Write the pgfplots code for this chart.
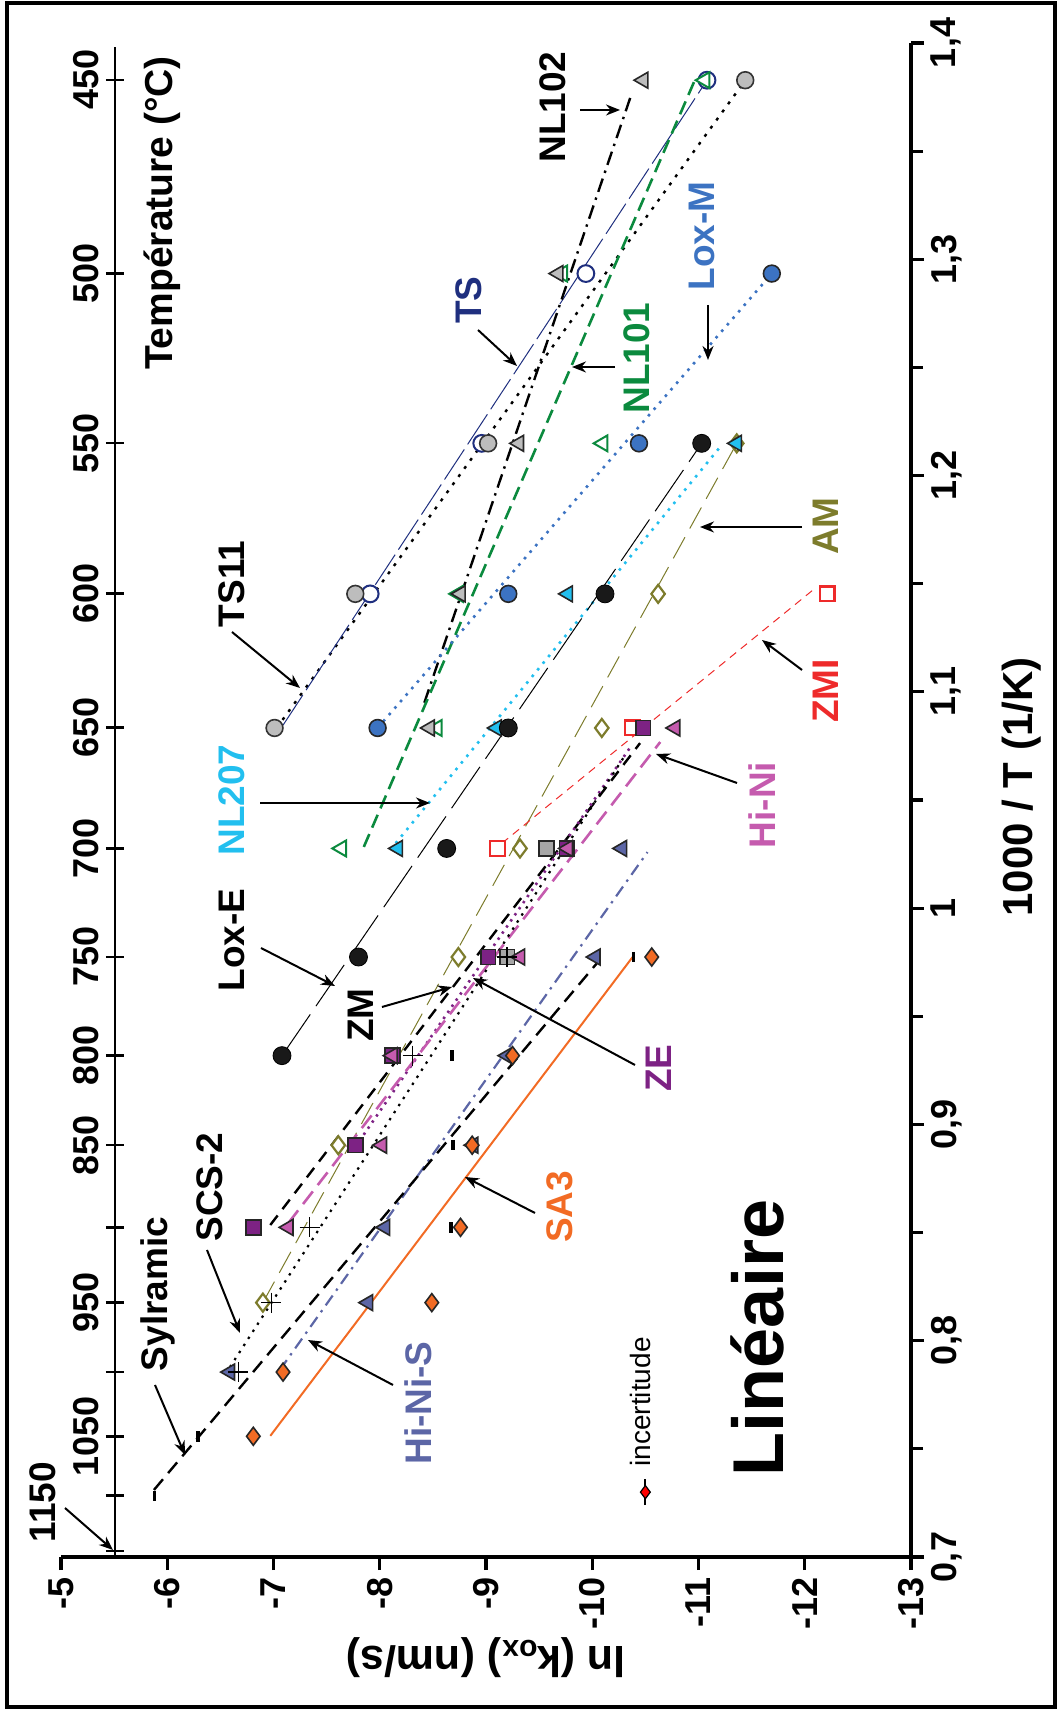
\documentclass[border=0pt]{standalone}
\usepackage{pgfplots}
\pgfplotsset{compat=1.18}
\usepackage{fontspec}
\setmainfont{Liberation Sans}
\usetikzlibrary{arrows.meta}
\definecolor{cnavy}{HTML}{1F2F7F}
\definecolor{cgreen}{HTML}{0B8A3E}
\definecolor{cblue}{HTML}{3C73C2}
\definecolor{ccyan}{HTML}{22BFEF}
\definecolor{colive}{HTML}{7D7C2C}
\definecolor{cred}{HTML}{EE2A2A}
\definecolor{cpink}{HTML}{C55BAE}
\definecolor{cpurple}{HTML}{7D2284}
\definecolor{cslate}{HTML}{5C66A6}
\definecolor{corange}{HTML}{F26B24}
\definecolor{cgray}{HTML}{BDBDBD}
\definecolor{cgraysq}{HTML}{A6A6A6}
\newcommand{\tickfont}{\bfseries\fontsize{18}{18}\selectfont}
\begin{document}
\begin{tikzpicture}
\path[use as bounding box] (-30.5pt,-78pt) rectangle (500pt,778.5pt);
% temperature axis
\begin{axis}[
  at={(27pt,0pt)}, anchor=south west,
  scale only axis, width=60pt, height=755pt,
  xmin=0, xmax=1, ymin=0.7, ymax=1.398,
  axis y line*=left, hide x axis,
  axis line style={line width=1.3pt},
  tick align=center, major tick length=9pt,
  tick style={line width=1.3pt, black},
  ytick={1.3828,1.2934,1.2149,1.1453,1.0833,1.0276,0.9774,0.9318,0.8904,0.8524,0.8176,0.7855,0.7558,0.7283,0.7027},
  yticklabels={450,500,550,600,650,700,750,800,850,{},950,{},1050,{},{}},
  yticklabel style={rotate=90, anchor=south, font=\tickfont},
]
\addplot[draw=none] coordinates {(0.5,1)};
\end{axis}
% main axis
\begin{axis}[
  at={(0pt,0pt)}, anchor=south west,
  scale only axis, width=425pt, height=757pt,
  xmin=-13, xmax=-5, x dir=reverse,
  ymin=0.7, ymax=1.4,
  axis x line*=bottom, axis y line*=right,
  axis line style={line width=1.6pt},
  tick align=outside,
  major tick length=6.5pt, minor tick length=6pt,
  tick style={line width=1.6pt, black},
  xtick={-13,-12,-11,-10,-9,-8,-7,-6,-5},
  xticklabels={-13,-12,-11,-10,-9,-8,-7,-6,-5},
  ytick={0.7,0.8,0.9,1.0,1.1,1.2,1.3,1.4},
  yticklabels={{0,7},{0,8},{0,9},{1},{1,1},{1,2},{1,3},{1,4}},
  minor ytick={0.75,0.85,0.95,1.05,1.15,1.25,1.35},
  clip=false,
  xticklabel style={rotate=90, anchor=east, font=\tickfont},
  yticklabel style={rotate=90, anchor=north, font=\tickfont},
]
% ---- lines ----
\addplot[no marks, black, line width=1.2pt, dash pattern=on 1.5pt off 3.5pt] coordinates {(-7.03,1.0833) (-11.40,1.3800)}; % TS11
\addplot[no marks, cnavy, line width=0.5pt, dash pattern=on 18pt off 3pt] coordinates {(-7.09,1.0846) (-11.08,1.3828)}; % TS
\addplot[no marks, black, line width=1.2pt, dash pattern=on 7pt off 3pt on 1.2pt off 3pt] coordinates {(-8.42,1.095) (-10.36,1.375)}; % NL102
\addplot[no marks, cgreen, line width=1.3pt, dash pattern=on 7pt off 3.5pt] coordinates {(-7.85,1.0283) (-10.98,1.3845)}; % NL101
\addplot[no marks, cblue, line width=1.3pt, dash pattern=on 1.3pt off 3pt] coordinates {(-7.98,1.0833) (-11.69,1.2934)}; % Lox-M
\addplot[no marks, ccyan, line width=1.3pt, dash pattern=on 1.3pt off 3pt] coordinates {(-8.15,1.030) (-11.20,1.213)}; % NL207
\addplot[no marks, black, line width=0.5pt, dash pattern=on 25pt off 5pt] coordinates {(-7.08,0.9318) (-11.03,1.2149)}; % Lox-E
\addplot[no marks, colive, line width=0.5pt, dash pattern=on 12pt off 5pt] coordinates {(-6.90,0.8176) (-11.36,1.2149)}; % AM
\addplot[no marks, cred, line width=0.5pt, dash pattern=on 4pt off 3pt] coordinates {(-9.15,1.030) (-12.10,1.148)}; % ZMI
\addplot[no marks, black, line width=1.2pt, dash pattern=on 6pt off 4pt] coordinates {(-6.97,0.8535) (-10.45,1.0763)}; % ZM
\addplot[no marks, cpurple, line width=1.3pt, dash pattern=on 1.2pt off 2.5pt] coordinates {(-7.77,0.8896) (-10.36,1.0745)}; % ZE
\addplot[no marks, cpink, line width=1.3pt, dash pattern=on 8pt off 4pt] coordinates {(-7.14,0.8544) (-10.64,1.0768)}; % Hi-Ni
\addplot[no marks, black, line width=1.1pt, dash pattern=on 1.2pt off 3pt] coordinates {(-6.59,0.7878) (-10.30,1.070)}; % SCS-2
\addplot[no marks, cslate, line width=1.1pt, dash pattern=on 6pt off 3pt on 1.2pt off 3pt] coordinates {(-7.06,0.7865) (-10.52,1.0259)}; % Hi-Ni-S
\addplot[no marks, black, line width=1.2pt, dash pattern=on 7pt off 4pt] coordinates {(-5.875,0.731) (-10.045,0.9746)}; % Sylramic
\addplot[no marks, corange, line width=1pt] coordinates {(-6.97,0.756) (-10.38,0.9774)}; % SA3
% ---- markers ----
\addplot[only marks, mark=*, mark size=4.2pt, mark options={draw=cnavy, fill=white, line width=1pt}] coordinates {(-7.91,1.1453) (-8.96,1.2149) (-9.94,1.2934) (-11.08,1.3828)}; % TS
\addplot[only marks, mark=*, mark size=4.2pt, mark options={draw=black!80, fill=cgray, line width=0.8pt}] coordinates {(-7.01,1.0833) (-7.77,1.1453) (-9.02,1.2149) (-11.44,1.3828)}; % TS11
\addplot[only marks, mark=triangle*, mark size=4.6pt, mark options={rotate=90, draw=cgreen, fill=white, line width=1pt}] coordinates {(-7.64,1.0276) (-8.54,1.0833) (-8.74,1.1453) (-10.10,1.2149) (-9.72,1.2934) (-11.06,1.3828)}; % NL101
\addplot[only marks, mark=triangle*, mark size=4.6pt, mark options={rotate=90, draw=black!85, fill=cgray, line width=0.8pt}] coordinates {(-8.47,1.0833) (-8.76,1.1453) (-9.31,1.2149) (-9.68,1.2934) (-10.48,1.3828)}; % NL102
\addplot[only marks, mark=*, mark size=4.2pt, mark options={draw=black!85, fill=cblue, line width=0.8pt}] coordinates {(-7.98,1.0833) (-9.21,1.1453) (-10.44,1.2149) (-11.69,1.2934)}; % Lox-M
\addplot[only marks, mark=diamond*, mark size=4.5pt, mark options={draw=colive, fill=white, line width=1.1pt}] coordinates {(-6.90,0.8176) (-7.61,0.8904) (-8.74,0.9774) (-9.32,1.0276) (-10.09,1.0833) (-10.62,1.1453) (-11.36,1.2149)}; % AM
\addplot[only marks, mark=triangle*, mark size=4.6pt, mark options={rotate=90, draw=black!85, fill=ccyan, line width=0.8pt}] coordinates {(-8.17,1.0276) (-9.10,1.0833) (-9.77,1.1453) (-11.36,1.2149)}; % NL207
\addplot[only marks, mark=*, mark size=4.5pt, mark options={draw=black, fill=black!90}] coordinates {(-7.08,0.9318) (-7.80,0.9774) (-8.63,1.0276) (-9.21,1.0833) (-10.12,1.1453) (-11.03,1.2149)}; % Lox-E
\addplot[only marks, mark=square*, mark size=3.7pt, mark options={draw=cred, fill=white, line width=1.1pt}] coordinates {(-9.11,1.0276) (-10.38,1.0833) (-12.21,1.1453)}; % ZMI
\addplot[only marks, mark=square*, mark size=3.7pt, mark options={draw=black!85, fill=cgraysq, line width=0.8pt}] coordinates {(-9.20,0.9774) (-9.57,1.0276)}; % ZM
\addplot[only marks, mark=square*, mark size=3.7pt, mark options={draw=black!85, fill=cpurple, line width=0.8pt}] coordinates {(-6.81,0.8524) (-7.77,0.8904) (-8.12,0.9318) (-9.02,0.9774) (-9.76,1.0276) (-10.48,1.0833)}; % ZE
\addplot[only marks, mark=triangle*, mark size=4.6pt, mark options={rotate=90, draw=black!85, fill=cpink, line width=0.8pt}] coordinates {(-7.14,0.8524) (-8.02,0.8904) (-8.12,0.9318) (-9.32,0.9774) (-9.77,1.0276) (-10.78,1.0833)}; % Hi-Ni
\addplot[only marks, mark=triangle*, mark size=4.6pt, mark options={rotate=90, draw=black!85, fill=cslate, line width=0.8pt}] coordinates {(-6.59,0.7855) (-7.89,0.8176) (-8.05,0.8524) (-8.88,0.8904) (-9.20,0.9318) (-10.03,0.9774) (-10.28,1.0276)}; % Hi-Ni-S
\addplot[only marks, mark=diamond*, mark size=4.5pt, mark options={draw=black!85, fill=corange, line width=0.8pt}] coordinates {(-6.81,0.7558) (-7.09,0.7855) (-8.49,0.8176) (-8.76,0.8524) (-8.87,0.8904) (-9.25,0.9318) (-10.56,0.9774)}; % SA3
\addplot[only marks, mark=|, mark size=2.6pt, mark options={draw=black, line width=1.6pt}] coordinates {(-5.88,0.7283) (-6.29,0.7558) (-8.67,0.8524) (-8.69,0.8904) (-8.68,0.9318) (-10.39,0.9774)}; % Sylramic
\addplot[only marks, mark=+, mark size=5pt, mark options={draw=black, line width=0.8pt}] coordinates {(-6.67,0.7855) (-6.98,0.8176) (-7.34,0.8524) (-8.31,0.9318) (-9.20,0.9774)}; % SCS-2
% incertitude
\addplot[only marks, mark=diamond*, mark size=3.3pt, mark options={draw=black, fill=red, line width=0.6pt},
  error bars/.cd, y dir=both, y explicit, error bar style={line width=1pt, black}, error mark options={line width=1pt, mark size=3pt}]
  coordinates {(-10.50,0.730) +- (0,0.0032)};
\end{axis}
% ---- annotations (image pixel coordinates) ----
\begin{scope}[shift={(-30.5pt,778.5pt)}, x=0.5pt, y=-0.5pt]
\tikzset{lab/.style={font=\bfseries\fontsize{18.5}{18.5}\selectfont, rotate=90, inner sep=0pt},
         arr/.style={-{Stealth[length=7pt,width=5.5pt]}, line width=1pt, black}}
\draw[line width=1.6pt] (7,3) rectangle (1055,1707);
\node[font=\bfseries\fontsize{19.5}{19.5}\selectfont, rotate=90, inner sep=0pt] at (162,213) {Température (°C)};
\node[font=\bfseries\fontsize{21}{21}\selectfont, rotate=90, inner sep=0pt] at (1022,787) {1000 / T (1/K)};
\node[font=\bfseries\fontsize{21.5}{21.5}\selectfont, rotate=180, inner sep=0pt] at (486,1658) {ln (k\textsubscript{ox}) (nm/s)};
\node[lab] at (43,1502) {1150};
\node[lab, text=black] at (553,107) {NL102};
\node[lab, text=cnavy] at (469,300) {TS};
\node[lab, text=cgreen] at (637,358) {NL101};
\node[lab, text=cblue] at (702,236) {Lox-M};
\node[lab, text=black] at (232,584) {TS11};
\node[lab, text=ccyan] at (232,800) {NL207};
\node[lab, text=black] at (232,940) {Lox-E};
\node[lab, text=black] at (361,1015) {ZM};
\node[lab, text=cpurple] at (659,1068) {ZE};
\node[lab, text=corange] at (560,1207) {SA3};
\node[lab, text=colive] at (826,526) {AM};
\node[lab, text=cred] at (826,691) {ZMI};
\node[lab, text=cpink] at (762,805) {Hi-Ni};
\node[lab, text=black] at (158,1294) {Sylramic};
\node[lab, text=black] at (210,1187) {SCS-2};
\node[lab, text=cslate] at (418,1403) {Hi-Ni-S};
\node[font=\bfseries\fontsize{36}{36}\selectfont, rotate=90, inner sep=0pt] at (757,1338) {Linéaire};
\node[font=\fontsize{14}{14}\selectfont, rotate=90, inner sep=0pt] at (640,1402) {incertitude};
\draw[arr] (580,110) -- (620,110);
\draw[arr] (478,330) -- (517,366);
\draw[arr] (615,367) -- (572,367);
\draw[arr] (708,305) -- (708,360);
\draw[arr] (232,632) -- (300,688);
\draw[arr] (260,803) -- (430,803);
\draw[arr] (261,948) -- (335,986);
\draw[arr] (382,1007) -- (452,987);
\draw[arr] (635,1065) -- (473,978);
\draw[arr] (535,1213) -- (465,1177);
\draw[arr] (802,527) -- (700,527);
\draw[arr] (802,670) -- (762,640);
\draw[arr] (737,783) -- (656,754);
\draw[arr] (155,1385) -- (185,1455);
\draw[arr] (207,1250) -- (240,1333);
\draw[arr] (393,1385) -- (308,1340);
\draw[arr] (65,1508) -- (113,1550);
\end{scope}
\end{tikzpicture}
\end{document}
